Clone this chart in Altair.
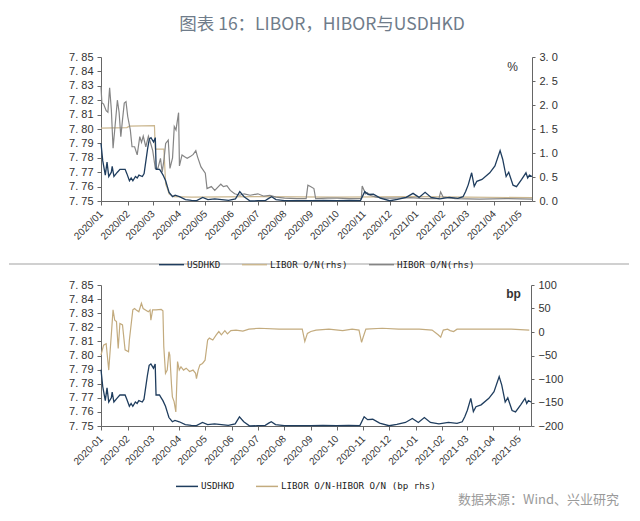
import altair as alt
import pandas as pd

# ---------------- data ----------------
usd_dates = ["2020-01-01", "2020-01-03", "2020-01-06", "2020-01-08", "2020-01-10", "2020-01-13",
             "2020-01-14", "2020-01-16", "2020-01-20", "2020-01-23", "2020-01-29", "2020-01-31",
             "2020-02-03", "2020-02-05", "2020-02-07", "2020-02-10", "2020-02-12", "2020-02-14",
             "2020-02-18", "2020-02-20", "2020-02-24", "2020-02-26", "2020-02-28", "2020-03-02",
             "2020-03-04", "2020-03-05", "2020-03-09", "2020-03-11", "2020-03-13", "2020-03-16",
             "2020-03-18", "2020-03-20", "2020-03-24", "2020-03-27", "2020-04-01", "2020-04-08",
             "2020-04-15", "2020-04-21", "2020-04-28", "2020-05-04", "2020-05-12", "2020-05-20",
             "2020-05-28", "2020-06-05", "2020-06-10", "2020-06-15", "2020-06-22", "2020-07-01",
             "2020-07-10", "2020-07-14", "2020-07-17", "2020-07-22", "2020-08-01", "2020-08-15",
             "2020-09-01", "2020-09-15", "2020-10-01", "2020-10-15", "2020-10-28", "2020-11-02",
             "2020-11-06", "2020-11-12", "2020-11-20", "2020-12-01", "2020-12-10", "2020-12-20",
             "2020-12-28", "2021-01-04", "2021-01-11", "2021-01-18", "2021-01-28", "2021-02-08",
             "2021-02-18", "2021-02-24", "2021-02-27", "2021-03-02", "2021-03-06", "2021-03-09",
             "2021-03-12", "2021-03-18", "2021-03-27", "2021-04-02", "2021-04-08", "2021-04-11",
             "2021-04-15", "2021-04-18", "2021-04-23", "2021-04-27", "2021-05-03", "2021-05-08",
             "2021-05-10", "2021-05-12", "2021-05-15"]
usd_vals = [7.790, 7.778, 7.768, 7.777, 7.767, 7.770,
            7.774, 7.767, 7.770, 7.772, 7.772, 7.769,
            7.764, 7.766, 7.764, 7.767, 7.766, 7.768,
            7.767, 7.769, 7.786, 7.793, 7.794, 7.791,
            7.794, 7.772, 7.772, 7.770, 7.768, 7.764,
            7.760, 7.756, 7.753, 7.754, 7.753, 7.751,
            7.7505, 7.7503, 7.7525, 7.751, 7.7515, 7.751,
            7.7505, 7.7515, 7.7565, 7.753, 7.750, 7.7502,
            7.7505, 7.752, 7.753, 7.751, 7.7502, 7.7503,
            7.7502, 7.7504, 7.7502, 7.7504, 7.7503, 7.7565,
            7.7545, 7.7548, 7.752, 7.7502, 7.7512, 7.7525,
            7.7553, 7.7525, 7.756, 7.7525, 7.7515, 7.7525,
            7.7518, 7.753, 7.7566, 7.7612, 7.7696, 7.7602,
            7.7637, 7.765, 7.7696, 7.7743, 7.785, 7.779,
            7.767, 7.770, 7.761, 7.760, 7.765, 7.7696,
            7.766, 7.768, 7.767]

libor_dates = ["2020-01-01", "2020-01-31", "2020-02-03", "2020-03-03", "2020-03-04", "2020-03-14",
               "2020-03-16", "2020-03-18", "2020-03-20", "2020-03-25", "2020-04-15", "2020-07-01",
               "2020-10-01", "2021-01-01", "2021-03-01", "2021-05-15"]
libor_vals = [1.52, 1.53, 1.56, 1.57, 1.08, 1.08,
              0.35, 0.26, 0.15, 0.09, 0.08, 0.09,
              0.08, 0.09, 0.08, 0.07]

hibor_dates = ["2020-01-01", "2020-01-02", "2020-01-04", "2020-01-07", "2020-01-09", "2020-01-11",
               "2020-01-13", "2020-01-15", "2020-01-17", "2020-01-20", "2020-01-22", "2020-01-24",
               "2020-01-26", "2020-01-28", "2020-01-30", "2020-02-01", "2020-02-04", "2020-02-06",
               "2020-02-09", "2020-02-12", "2020-02-15", "2020-02-17", "2020-02-19", "2020-02-22",
               "2020-02-25", "2020-02-27", "2020-03-01", "2020-03-04", "2020-03-07", "2020-03-10",
               "2020-03-12", "2020-03-14", "2020-03-16", "2020-03-19", "2020-03-21", "2020-03-24",
               "2020-03-26", "2020-03-28", "2020-03-31", "2020-04-01", "2020-04-04", "2020-04-07",
               "2020-04-10", "2020-04-14", "2020-04-17", "2020-04-20", "2020-04-22", "2020-04-26",
               "2020-05-01", "2020-05-03", "2020-05-08", "2020-05-12", "2020-05-19", "2020-05-22",
               "2020-05-26", "2020-05-30", "2020-06-04", "2020-06-10", "2020-06-15", "2020-06-22",
               "2020-07-01", "2020-07-08", "2020-07-15", "2020-07-22", "2020-08-01", "2020-08-15",
               "2020-08-26", "2020-08-28", "2020-08-31", "2020-09-04", "2020-09-06", "2020-09-20",
               "2020-10-01", "2020-10-15", "2020-10-29", "2020-10-30", "2020-11-03", "2020-11-05",
               "2020-11-08", "2020-11-15", "2020-11-25", "2020-12-10", "2020-12-25", "2021-01-10",
               "2021-01-27", "2021-01-29", "2021-02-01", "2021-02-15", "2021-03-15", "2021-04-15",
               "2021-05-15"]
hibor_vals = [2.38, 2.05, 2.02, 1.88, 1.85, 2.36,
              1.90, 1.10, 1.50, 2.10, 1.85, 1.34,
              1.70, 2.04, 2.07, 1.76, 1.48, 1.13,
              1.13, 0.96, 1.34, 1.22, 1.35, 1.13,
              1.35, 1.24, 1.05, 0.68, 0.68, 0.89,
              0.60, 0.85, 1.20, 1.27, 0.68, 0.90,
              1.55, 1.48, 1.84, 0.73, 0.96, 0.92,
              0.89, 0.93, 0.97, 1.05, 0.92, 0.71,
              0.58, 0.26, 0.30, 0.22, 0.35, 0.30,
              0.32, 0.22, 0.15, 0.12, 0.15, 0.12,
              0.15, 0.10, 0.12, 0.08, 0.06, 0.05,
              0.05, 0.33, 0.30, 0.26, 0.05, 0.06,
              0.06, 0.05, 0.05, 0.31, 0.15, 0.17,
              0.12, 0.08, 0.06, 0.06, 0.07, 0.05,
              0.05, 0.19, 0.08, 0.05, 0.04, 0.05,
              0.04]

spread_dates = ["2020-01-01", "2020-01-04", "2020-01-07", "2020-01-10", "2020-01-13", "2020-01-15",
                "2020-01-17", "2020-01-19", "2020-01-21", "2020-01-23", "2020-01-26", "2020-01-29",
                "2020-02-02", "2020-02-03", "2020-02-07", "2020-02-09", "2020-02-11", "2020-02-14",
                "2020-02-17", "2020-02-19", "2020-02-25", "2020-02-27", "2020-02-28", "2020-03-01",
                "2020-03-05", "2020-03-11", "2020-03-13", "2020-03-14", "2020-03-16", "2020-03-18",
                "2020-03-20", "2020-03-21", "2020-03-23", "2020-03-24", "2020-03-26", "2020-03-28",
                "2020-03-30", "2020-04-01", "2020-04-03", "2020-04-06", "2020-04-09", "2020-04-13",
                "2020-04-17", "2020-04-20", "2020-04-21", "2020-04-23", "2020-04-25", "2020-04-28",
                "2020-05-01", "2020-05-04", "2020-05-06", "2020-05-10", "2020-05-14", "2020-05-17",
                "2020-05-20", "2020-05-24", "2020-05-27", "2020-05-31", "2020-06-06", "2020-06-14",
                "2020-06-21", "2020-07-03", "2020-07-26", "2020-08-22", "2020-08-25", "2020-08-28",
                "2020-09-01", "2020-09-07", "2020-09-22", "2020-10-08", "2020-10-19", "2020-10-27",
                "2020-10-30", "2020-11-01", "2020-11-04", "2020-11-23", "2020-12-12", "2021-01-05",
                "2021-01-20", "2021-01-27", "2021-01-30", "2021-02-02", "2021-02-07", "2021-02-10",
                "2021-02-14", "2021-02-18", "2021-03-07", "2021-03-30", "2021-04-22", "2021-05-13"]
spread_vals = [-49, -28, -25, -81, -6, 47,
               25, 22, -35, 18, 15, -38,
               -42, -17, 47, 50, 47, 43,
               61, 50, 43, 47, 25, 47,
               47, 48, 45, -31, -88, -81,
               -42, -49, -113, -138, -148, -170,
               -63, -81, -74, -81, -77, -84,
               -81, -88, -99, -81, -70, -67,
               -60, -17, -13, -17, -6, 1,
               -6, 3, -4, 3, 4, 2,
               6, 8, 6, 6, -20, -3,
               1, 4, 6, 3, 6, 4,
               -22, -10, 6, 8, 6, 6,
               4, -6, -11, 4, 6, 3,
               1, 6, 6, 6, 6, 4]

tick_months = ["2020-01", "2020-02", "2020-03", "2020-04", "2020-05", "2020-06", "2020-07",
               "2020-08", "2020-09", "2020-10", "2020-11", "2020-12", "2021-01", "2021-02",
               "2021-03", "2021-04", "2021-05"]
top_names = ["USDHKD", "LIBOR O/N(rhs)", "HIBOR O/N(rhs)"]
bottom_names = ["USDHKD", "LIBOR O/N-HIBOR O/N (bp rhs)"]
left_ticks = [7.75, 7.76, 7.77, 7.78, 7.79, 7.80, 7.81, 7.82, 7.83, 7.84, 7.85]
pct_ticks = [0, 0.5, 1.0, 1.5, 2.0, 2.5, 3.0]
bp_ticks = [-200, -150, -100, -50, 0, 50, 100]

title_text = "图表 16：LIBOR，HIBOR与USDHKD"
source_text = "数据来源：Wind、兴业研究"

BLUE = "#1f3d5e"
TAN = "#cbb78f"
TAN2 = "#c3ab7e"
GRAY = "#858585"
AX = "#666666"
LAB = "#333333"


def local(ds):
    return [d.replace("-", "/") for d in ds]


usd_df = pd.DataFrame({"date": local(usd_dates), "value": usd_vals, "series": "USDHKD"})
rate_df = pd.concat([
    pd.DataFrame({"date": local(libor_dates), "value": libor_vals, "series": top_names[1]}),
    pd.DataFrame({"date": local(hibor_dates), "value": hibor_vals, "series": top_names[2]}),
], ignore_index=True)
spread_df = pd.DataFrame({"date": local(spread_dates), "value": spread_vals, "series": bottom_names[1]})
one = pd.DataFrame({"k": [0]})

xdom = [alt.DateTime(year=2020, month=1, date=1), alt.DateTime(year=2021, month=5, date=15)]
tick_vals = [alt.DateTime(year=int(m[:4]), month=int(m[5:7]), date=1) for m in tick_months]


def x_enc(fmt):
    return alt.X("date:T", title=None, scale=alt.Scale(domain=xdom),
                 axis=alt.Axis(values=tick_vals, format=fmt, labelAngle=-45, labelAlign="right",
                               labelBaseline="middle", labelPadding=7, tickSize=4,
                               labelFont="Liberation Sans", labelFontSize=10, labelColor=LAB,
                               domainColor=AX, tickColor=AX, labelOverlap=False, labelFlush=False,
                               grid=False))


def left_y():
    return alt.Y("value:Q", scale=alt.Scale(domain=[7.75, 7.85], nice=False, zero=False),
                 axis=alt.Axis(orient="left", values=left_ticks,
                               labelExpr="replace(format(datum.value, '.2f'), '.', '. ')",
                               tickSize=4, labelPadding=4, labelFont="Liberation Sans",
                               labelFontSize=11, labelColor=LAB, domainColor=AX, tickColor=AX,
                               grid=False, title=None))


def legend(x, y, size):
    return alt.Legend(title=None, orient="none", legendX=x, legendY=y, direction="horizontal",
                      symbolType="stroke", symbolSize=size, symbolStrokeWidth=1.5,
                      labelFont="DejaVu Sans Mono", labelFontSize=9.2, labelColor="#222222",
                      columnPadding=18, labelOffset=2, padding=0, labelLimit=0)


top_color = alt.Color("series:N", scale=alt.Scale(domain=top_names, range=[BLUE, TAN, GRAY]),
                      legend=legend(57, 194, 625))
bot_color = alt.Color("series:N", scale=alt.Scale(domain=bottom_names, range=[BLUE, TAN2]),
                      legend=legend(74, 189, 484))

rates = alt.Chart(rate_df).mark_line(strokeWidth=1.2).encode(
    x=x_enc("%Y/%m"),
    y=alt.Y("value:Q", scale=alt.Scale(domain=[0, 3], nice=False),
            axis=alt.Axis(orient="right", values=pct_ticks,
                          labelExpr="replace(format(datum.value, '.1f'), '.', '. ')",
                          tickSize=3, labelPadding=4, labelFont="Liberation Sans", labelFontSize=11,
                          labelColor=LAB, domainColor=AX, tickColor=AX, grid=False,
                          title="%", titleAngle=0, titleX=-20, titleY=9, titleAlign="center",
                          titleBaseline="middle", titleFont="Liberation Sans", titleFontSize=12,
                          titleFontWeight="normal", titleColor=LAB)),
    color=top_color,
)
usd_top = alt.Chart(usd_df).mark_line(strokeWidth=1.3).encode(
    x=x_enc("%Y/%m"), y=left_y(), color=top_color)

sep = alt.Chart(one).mark_rule(color="#d0d0d0", strokeWidth=2).encode(
    x=alt.value(-92), x2=alt.value(528), y=alt.value(207))
guard = alt.Chart(one).mark_rule(color="white", strokeWidth=1).encode(
    x=alt.value(0), x2=alt.value(10), y=alt.value(-48.5))
title = alt.Chart(one).mark_text(text=title_text, font="Noto Sans CJK SC", fontSize=17.5,
                                 color="#6f7c8a", align="center", baseline="middle").encode(
    x=alt.value(221), y=alt.value(-32))

top = alt.layer(rates, usd_top, sep, guard, title).resolve_scale(y="independent").properties(
    width=431, height=144)

spread = alt.Chart(spread_df).mark_line(strokeWidth=1.2).encode(
    x=x_enc("%Y-%m"),
    y=alt.Y("value:Q", scale=alt.Scale(domain=[-200, 100], nice=False, zero=False),
            axis=alt.Axis(orient="right", values=bp_ticks, tickSize=3, labelPadding=4,
                          labelFont="Liberation Sans", labelFontSize=11, labelColor=LAB,
                          domainColor=AX, tickColor=AX, grid=False,
                          title="bp", titleAngle=0, titleX=-18, titleY=8, titleAlign="center",
                          titleBaseline="middle", titleFont="Liberation Sans", titleFontSize=12,
                          titleFontWeight="bold", titleColor=LAB)),
    color=bot_color,
)
usd_bot = alt.Chart(usd_df).mark_line(strokeWidth=1.3).encode(
    x=x_enc("%Y-%m"), y=left_y(), color=bot_color)
source = alt.Chart(one).mark_text(text=source_text, font="Noto Sans CJK SC", fontSize=13,
                                  color="#9a9a9a", align="right", baseline="middle").encode(
    x=alt.value(518), y=alt.value(215))

bottom = alt.layer(spread, usd_bot, source).resolve_scale(y="independent").properties(
    width=430, height=141)

chart = alt.vconcat(top, bottom, spacing=84, bounds="flush").resolve_scale(
    x="independent", color="independent").properties(padding=0).configure_view(stroke=None)

chart.save("out.html", embed_options={"renderer": "svg", "actions": False})
